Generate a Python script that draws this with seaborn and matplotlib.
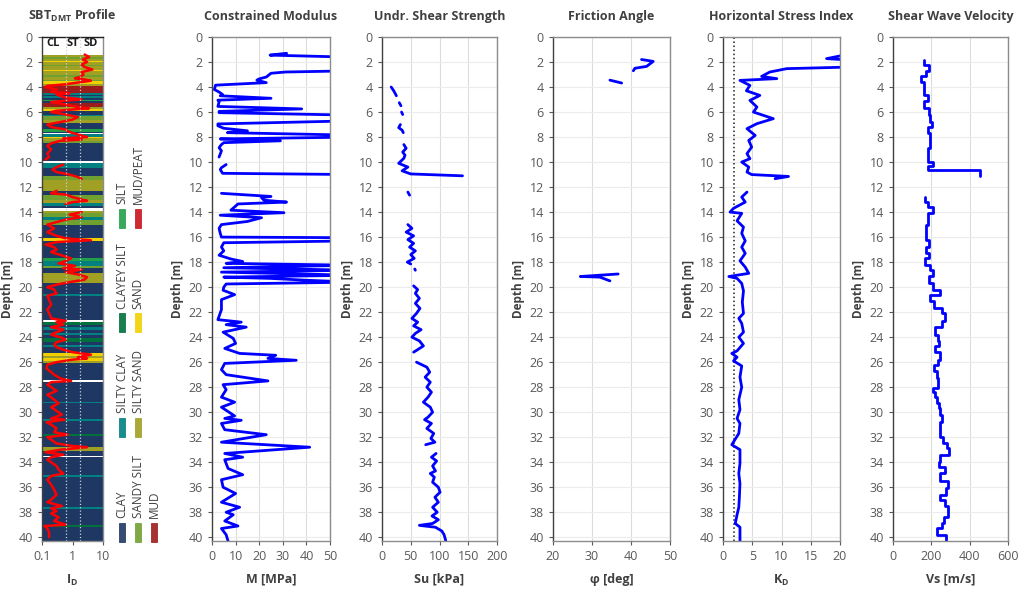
import numpy as np
import matplotlib
matplotlib.use('Agg')
import matplotlib.pyplot as plt
from matplotlib.patches import Rectangle
from matplotlib.ticker import NullLocator
import pandas as pd
import seaborn as sns

# ---- data ----

# SBT classes and colours
sbt_names = ['CLAY', 'SILTY CLAY', 'CLAYEY SILT', 'SILT', 'SANDY SILT',
             'SILTY SAND', 'SAND', 'MUD/PEAT', 'MUD']
sbt_colors = ['#1f3763', '#008080', '#00703c', '#22a048', '#70a030',
              '#a0a024', '#f2d000', '#c8141e', '#9c1b1b']

# depth runs that carry data (clay is the background inside them)
run_top = [1.4, 10.1, 13.9, 22.75, 27.55, 33.62]
run_bot = [9.9, 13.65, 22.65, 27.45, 33.52, 40.3]

# non-clay layers
layer_top = [1.40, 1.60, 1.75, 1.90, 2.02, 2.20, 2.35, 2.60, 2.75, 3.00, 3.20, 3.40, 3.55, 3.75,
             3.95, 4.45, 4.70, 5.00, 5.30, 5.60, 5.75, 6.20, 6.35, 6.60, 7.35, 7.70, 7.76, 8.00,
             8.10, 8.35, 10.10, 11.15, 11.40, 12.60, 13.00, 13.30, 13.90, 14.10, 14.40, 14.60,
             16.10, 17.70, 17.90, 18.30, 18.90, 20.55, 22.75, 23.20, 23.65, 24.10, 24.60, 25.30,
             25.50, 25.65, 25.90, 29.15, 30.55, 31.75, 32.75, 35.05, 37.55, 39.05]
layer_bot = [1.60, 1.75, 1.90, 2.02, 2.20, 2.35, 2.60, 2.75, 3.00, 3.20, 3.40, 3.55, 3.75, 3.95,
             4.45, 4.60, 4.85, 5.12, 5.60, 5.75, 5.90, 6.35, 6.60, 6.90, 7.60, 7.76, 8.00, 8.10,
             8.35, 8.50, 10.50, 11.40, 12.35, 13.00, 13.30, 13.55, 14.10, 14.40, 14.60, 15.00,
             16.30, 17.90, 18.30, 18.50, 19.70, 20.70, 23.00, 23.40, 23.80, 24.40, 24.80, 25.50,
             25.65, 25.90, 26.10, 29.28, 30.70, 31.92, 33.10, 35.18, 37.72, 39.15]
layer_cls = ['SILTY SAND', 'SANDY SILT', 'SILTY SAND', 'SAND', 'SILTY SAND', 'SANDY SILT',
             'SILTY SAND', 'SAND', 'SILTY SAND', 'SANDY SILT', 'SILTY SAND', 'SANDY SILT',
             'SAND', 'SILTY SAND', 'MUD', 'SILTY CLAY', 'SILTY CLAY', 'SILT', 'MUD',
             'SILTY SAND', 'SAND', 'SILTY CLAY', 'SANDY SILT', 'SILTY SAND', 'SILT', 'GAP',
             'SILTY CLAY', 'SAND', 'SILTY SAND', 'SANDY SILT', 'SILTY CLAY', 'SANDY SILT',
             'SILTY SAND', 'SANDY SILT', 'SILTY SAND', 'SILTY CLAY', 'SILTY SAND', 'SANDY SILT',
             'SILTY CLAY', 'SANDY SILT', 'SAND', 'SILT', 'SILTY CLAY', 'SANDY SILT',
             'SILTY SAND', 'SILTY CLAY', 'CLAYEY SILT', 'SILTY CLAY', 'SILTY CLAY',
             'CLAYEY SILT', 'SILTY CLAY', 'SAND', 'SILTY SAND', 'SAND', 'SILTY SAND',
             'SILTY CLAY', 'SILTY CLAY', 'CLAYEY SILT', 'SILTY SAND', 'SILTY CLAY',
             'SILTY CLAY', 'CLAYEY SILT']

# material index I_D
id_depth = [1.4, 1.6, 1.8, 2.0, 2.2, 2.4, 2.6, 2.8, 3.0, 3.2, 3.3, 3.4, 3.5, 3.6, 3.8, 3.9,
            4.0, 4.2, 4.4, 4.5, 4.6, 4.8, 5.0, 5.1, 5.2, 5.4, 5.6, 5.7, 5.8, 5.9, 6.0, 6.2,
            6.4, 6.6, 6.8, 7.0, 7.2, 7.4, 7.6, 7.8, 8.0, 8.1, 8.2, 8.3, 8.5, 8.7, 9.0, 9.3,
            9.6, 9.8,
            10.2, 10.4, 10.6, 10.8, 11.0, 11.2, 11.35,
            12.3, 12.5, 12.6, 12.8, 13.0, 13.1, 13.2, 13.35,
            14.0, 14.2, 14.4, 14.6, 14.8, 15.0, 15.3, 15.6, 15.9, 16.1, 16.25, 16.4, 16.6,
            16.8, 17.0, 17.2, 17.5, 17.7, 17.9, 18.1, 18.3, 18.5, 18.6, 18.8, 19.0, 19.2,
            19.4, 19.6, 19.8, 20.0, 20.2, 20.5, 20.7, 21.0, 21.4, 21.8, 22.2, 22.5, 22.7,
            22.8, 23.0, 23.2, 23.4, 23.6, 23.8, 24.0, 24.2, 24.4, 24.6, 24.8, 25.0, 25.2,
            25.4, 25.6, 25.7, 25.8, 26.0, 26.2, 26.5, 26.8, 27.0, 27.3, 27.5, 27.6, 27.8,
            28.0, 28.3, 28.6, 29.0, 29.3, 29.6, 29.9, 30.2, 30.5, 30.6, 30.8, 31.0, 31.3,
            31.6, 31.8, 32.0, 32.2, 32.5, 32.7, 32.8, 33.0, 33.2, 33.4, 33.6, 33.8, 34.0,
            34.3, 34.6, 34.9, 35.1, 35.4, 35.8, 36.2, 36.6, 37.0, 37.2, 37.5, 37.7, 37.9,
            38.1, 38.4, 38.7, 39.0, 39.1, 39.3, 39.6, 40.0]
id_val = [2.5, 3.5, 2.2, 3.0, 2.0, 2.5, 4.5, 2.0, 2.3, 1.8, 1.2, 2.5, 4.0, 2.0, 0.5, 0.15,
          0.13, 0.3, 0.2, 0.8, 0.3, 0.5, 2.0, 0.5, 0.2, 0.6, 1.5, 3.5, 1.0, 0.3, 0.2, 0.6,
          1.5, 1.0, 0.4, 0.15, 0.2, 0.6, 0.8, 1.5, 3.0, 0.5, 2.0, 0.4, 0.2, 0.15, 0.2, 0.15,
          0.17, 0.13,
          0.5, 0.3, 0.22, 0.3, 0.8, 1.5, 2.0,
          0.3, 0.2, 0.6, 1.0, 2.0, 3.0, 1.0, 0.6,
          2.0, 0.8, 2.0, 0.6, 0.3, 0.15, 0.25, 0.15, 0.3, 0.6, 4.0, 0.3, 0.13,
          0.25, 0.3, 0.2, 0.5, 0.9, 0.6, 0.35, 1.2, 0.5, 2.0, 0.6, 1.6, 3.0,
          2.5, 0.8, 0.3, 0.15, 0.25, 0.3, 0.15, 0.17, 0.2, 0.15, 0.18, 0.2, 0.6,
          0.3, 0.5, 0.2, 0.5, 0.3, 0.2, 0.4, 0.6, 0.3, 0.25, 0.3, 0.5, 1.0,
          4.0, 1.5, 3.0, 1.0, 0.3, 0.15, 0.14, 0.2, 0.25, 0.4, 0.9, 0.2, 0.15,
          0.2, 0.3, 0.15, 0.25, 0.35, 0.2, 0.3, 0.45, 0.2, 0.55, 0.14, 0.2, 0.3,
          0.25, 0.7, 0.15, 0.2, 0.3, 1.0, 3.0, 0.4, 0.13, 0.5, 0.2, 0.15, 0.2,
          0.3, 0.35, 0.5, 0.2, 0.15, 0.2, 0.25, 0.3, 0.2, 0.15, 0.45, 0.2, 0.3,
          0.2, 0.35, 0.25, 0.6, 0.12, 0.15, 0.17, 0.17]
id_run = [1] * 50 + [2] * 7 + [3] * 8 + [4] * (len(id_val) - 65)

# constrained modulus M [MPa]
m_depth = [1.30, 1.45, 1.62, 2.70, 2.80, 2.90, 3.20, 3.35, 3.45, 3.65, 3.85, 4.20, 4.40, 4.60,
           4.70, 4.90, 5.05, 5.20, 5.55, 5.75, 5.95, 6.05, 6.25, 6.70, 6.95, 7.10, 7.30, 7.50,
           7.65, 7.85, 8.00, 8.15, 8.30, 8.45, 8.60, 8.85, 9.10, 9.35, 9.60,
           10.20, 10.45, 10.60, 10.90, 11.00,
           12.50, 12.75, 12.85, 13.05, 13.20, 13.35, 13.85, 14.05, 14.25, 14.45, 14.75, 15.00,
           15.30, 15.70, 16.00, 16.05, 16.30, 16.45, 16.80, 17.10, 17.45, 17.75, 17.95, 18.10,
           18.25, 18.45, 18.65, 18.80, 19.05, 19.20, 19.30, 19.45, 19.60, 19.75, 20.00, 20.25,
           20.60, 21.00, 21.80, 22.60, 22.80, 23.00, 23.20, 23.60, 24.10, 24.50, 24.90, 25.30,
           25.45, 25.70, 25.85, 26.10, 26.60, 27.00, 27.50, 27.80, 28.20, 28.80, 29.20, 29.60,
           30.30, 30.50, 30.65, 30.90, 31.40, 31.80, 32.40, 32.80, 33.30, 33.60, 33.80, 34.50,
           35.00, 35.40, 36.00, 36.50, 37.20, 37.60, 38.00, 38.20, 38.70, 39.10, 39.30, 39.80,
           40.30]
m_val = [31.6, 24.6, 60, 60, 31, 25, 23, 20, 19, 23, 1.5, 1.0, 3, 4.5,
         3.5, 25, 2.5, 3, 2.5, 38, 3, 3, 60, 60, 2.5, 2.5, 5, 15,
         6.5, 60, 60, 3.5, 29, 5, 4, 3, 4, 3.5, 3,
         6, 4, 3.5, 4.5, 60,
         4, 25, 21, 22, 31.6, 11, 8, 30.5, 3.5, 21, 15, 4,
         3, 3.5, 4, 60, 60, 5, 4, 5, 3, 8, 13, 6,
         60, 5, 60, 4, 60, 5, 24.6, 40, 60, 6, 5, 4.7,
         9.6, 4, 4, 2.5, 12.4, 6, 14.5, 4.7, 9, 10, 5.4, 11.7,
         27, 23.7, 35.7, 5.4, 4, 6, 23.7, 4.7, 6, 4, 9.6, 4,
         9.6, 5.4, 12.4, 4, 5.4, 23, 4, 41.4, 5.4, 13, 5.4, 6.8,
         13, 4, 4.7, 10, 4, 11.7, 6, 9, 5.4, 11, 4, 6,
         6.8]
m_run = [1] * 39 + [2] * 5 + [3] * (len(m_val) - 44)

# undrained shear strength Su [kPa]
su_depth = [4.00, 4.35, 4.70,
            5.25, 5.50,
            6.00, 6.20,
            7.00, 7.25, 7.45, 7.65,
            8.60, 8.90, 9.20, 9.45, 9.70, 10.10, 10.40, 10.70, 10.95, 11.10,
            12.40, 12.65,
            15.00, 15.30, 15.60, 15.90, 16.20, 16.50, 16.80, 17.10, 17.40, 17.70, 18.00, 18.15,
            18.55, 18.65,
            19.90, 20.20, 20.50, 20.90, 21.30, 21.70, 22.10, 22.50, 22.80, 23.10, 23.40, 23.70,
            24.00, 24.30, 24.70, 25.00, 25.20,
            26.00, 26.40, 26.80, 27.20, 27.60, 28.00, 28.40, 28.80, 29.20, 29.60, 30.00, 30.40,
            30.60, 30.90, 31.30, 31.70, 32.10, 32.40, 32.60,
            33.30, 33.60, 33.90, 34.30, 34.70, 34.90, 35.20, 35.60, 36.00, 36.40, 36.80, 37.20,
            37.60, 38.00, 38.30, 38.60, 38.90, 39.05, 39.20, 39.50, 39.80, 40.30]
su_val = [16, 21, 25,
          30, 33,
          34, 36,
          32, 29, 35, 37,
          38, 42, 36, 40, 38, 29, 45, 35, 50, 140,
          45, 48,
          45, 52, 42, 55, 45, 55, 48, 58, 50, 56, 44, 50,
          57, 58,
          55, 62, 58, 65, 58, 66, 60, 52, 62, 55, 68, 58,
          52, 65, 72, 62, 55,
          60, 78, 83, 75, 84, 78, 86, 80, 72, 84, 88, 80,
          74, 86, 78, 90, 85, 92, 76,
          94, 86, 95, 88, 93, 84, 91, 88, 98, 101, 92, 98,
          88, 96, 87, 98, 88, 65, 93, 104, 108, 111]
su_run = [1] * 3 + [2] * 2 + [3] * 2 + [4] * 4 + [5] * 10 + [6] * 2 + [7] * 12 + [8] * 2 + \
         [9] * 17 + [10] * 19
su_run = su_run + [11] * (len(su_val) - len(su_run))

# friction angle phi [deg]
phi_depth = [1.80, 1.95, 2.35, 2.50, 2.70, 3.45, 3.68, 18.95, 19.15, 19.20, 19.50]
phi_val = [42.7, 45.7, 44.0, 41.0, 40.6, 34.6, 37.6, 36.7, 27.0, 32.0, 34.6]
phi_run = [1, 1, 1, 1, 1, 2, 2, 3, 3, 3, 3]

# horizontal stress index K_D
kd_depth = [1.33, 1.73, 1.85, 2.40, 2.53, 2.80, 3.15, 3.33, 3.47, 3.87, 4.30, 4.67, 5.07, 5.60,
            6.00, 6.53, 6.93, 7.33, 7.87, 8.27, 8.80, 9.33, 9.73, 10.00, 10.40, 10.80, 11.00,
            11.15, 11.33,
            12.40, 12.80, 13.20, 13.70, 14.00, 14.10, 14.70, 15.20, 15.70, 16.30, 16.80, 17.30,
            17.90, 18.40, 18.90, 19.15, 19.30, 19.70, 20.30, 21.20, 22.10, 22.50, 22.90, 23.60,
            24.00, 24.50, 25.10, 25.30, 25.60, 25.90, 26.30, 27.20, 28.00, 29.00, 29.80, 30.50,
            30.90, 31.70, 32.60, 33.00, 34.10, 34.90, 35.70, 36.80, 37.60, 38.20, 38.90, 39.20,
            40.30]
kd_val = [22, 17.7, 22, 22, 10.9, 8.0, 6.6, 9.2, 2.9, 4.6, 4.0, 6.3, 4.6, 5.8,
          5.2, 8.6, 5.8, 4.1, 5.5, 4.4, 4.9, 4.1, 4.6, 3.2, 4.4, 4.1, 4.9,
          11.2, 8.9,
          4.1, 3.2, 3.8, 1.8, 1.2, 3.2, 2.4, 3.5, 3.2, 3.8, 3.2, 3.8,
          2.9, 3.8, 4.4, 1.0, 2.4, 3.2, 3.5, 3.3, 3.5, 2.7, 3.2, 3.5,
          2.7, 3.5, 2.4, 1.5, 2.4, 1.8, 3.2, 2.9, 3.2, 2.7, 2.9, 2.4,
          2.9, 2.7, 1.5, 2.9, 2.9, 2.7, 2.9, 2.8, 2.7, 2.4, 2.1, 2.9,
          2.9]
kd_run = [1] * 29 + [2] * (len(kd_val) - 29)
kd_ref = 1.8

# shear wave velocity Vs [m/s], interval tops/bottoms
vs_top = [1.8, 2.2, 2.7, 3.1, 3.6, 4.65, 5.1, 5.7, 6.2, 6.8, 7.2, 7.7, 8.9, 10.0, 10.3, 10.6,
          12.8, 13.2, 13.6, 14.1, 15.0, 16.2, 16.8, 17.3, 17.7, 18.2, 18.6, 19.1, 19.7, 20.2,
          20.6, 21.1, 21.7, 22.1, 22.7, 23.2, 23.8, 24.3, 24.7, 25.2, 25.8, 26.2, 26.7, 27.3,
          28.1, 28.4, 28.8, 29.3, 29.7, 30.2, 30.8, 32.0, 32.5, 32.9, 33.4, 34.0, 34.4, 34.9,
          35.5, 36.1, 36.6, 37.0, 37.5, 38.4, 38.9, 39.3, 39.8]
vs_bot = vs_top[1:16] + [11.15] + vs_top[17:] + [40.3]
vs_val = [163, 186, 174, 146, 160, 181, 160, 186, 195, 203, 181, 191, 181, 209, 181, 455,
          165, 181, 209, 181, 174, 186, 174, 186, 169, 195, 209, 186, 209, 243,
          191, 212, 256, 270, 256, 221, 233, 240, 217, 247, 235, 216, 230, 235,
          209, 221, 230, 238, 247, 256, 247, 261, 282, 290, 247, 238, 270, 247,
          285, 278, 243, 270, 287, 264, 256, 230, 278]
vs_run = [1] * 16 + [2] * (len(vs_val) - 16)

# ---- figure ----
sns.set_style('white')
plt.rcParams['font.family'] = ['Open Sans', 'DejaVu Sans']
plt.rcParams['mathtext.fontset'] = 'custom'
plt.rcParams['mathtext.rm'] = 'Open Sans'
plt.rcParams['mathtext.bf'] = 'Open Sans:bold'
plt.rcParams['mathtext.it'] = 'Open Sans:italic'

W, H = 1024, 597
fig = plt.figure(figsize=(W / 100, H / 100), dpi=100)
fig.patch.set_facecolor('white')

panel_px = [(42, 103), (212, 330), (382, 497), (553, 670), (723, 840), (893, 1008)]
top_px, bot_px = 37, 541
axes = [fig.add_axes([l / W, 1 - bot_px / H, (r - l) / W, (bot_px - top_px) / H])
        for l, r in panel_px]

TXT = '#404040'
TICK = '#595959'


def style_axis(ax, title, xlabel, xlim, xticks):
    ax.set_xlim(xlim)
    ax.set_xticks(xticks)
    ax.set_ylim(40.3, 0)
    ax.set_yticks(range(0, 41, 2))
    ax.set_title(title, fontsize=9, fontweight='bold', color=TXT, pad=12)
    ax.set_xlabel(xlabel, fontsize=9, fontweight='bold', color=TXT, labelpad=7)
    ax.set_ylabel('Depth [m]', fontsize=8.5, fontweight='bold', color=TXT, labelpad=3)
    ax.tick_params(axis='both', labelsize=9, colors=TICK, length=3, width=0.8,
                   direction='out', bottom=True, left=True)
    for s in ax.spines.values():
        s.set_color('#8c8c8c')
        s.set_linewidth(1)
    ax.spines['left'].set_color('#404040')


def draw_profile(ax, depth, val, run, color, lw=2.0):
    df = pd.DataFrame({'depth': depth, 'val': val, 'run': run})
    sns.lineplot(data=df, x='val', y='depth', units='run', estimator=None, sort=False,
                 orient='y', color=color, lw=lw, ax=ax, legend=False)


# --- SBT profile ---
ax = axes[0]
ax.set_xscale('log')
cmap = dict(zip(sbt_names, sbt_colors))
for t, b in zip(run_top, run_bot):
    ax.axhspan(t, b, color=cmap['CLAY'], lw=0)
for t, b, c in zip(layer_top, layer_bot, layer_cls):
    if c == 'GAP':
        ax.axhspan(t, b, color='white', lw=0)
    else:
        ax.axhspan(t, b, color=cmap[c], lw=0)
for xv in (0.6, 1.8):
    ax.axvline(xv, color='#c9d1da', ls=':', lw=0.9, zorder=3)
draw_profile(ax, id_depth, id_val, id_run, '#ff0000', lw=1.8)
style_axis(ax, r'SBT$_{\mathbf{DMT}}$ Profile', r'$\mathbf{I}_{\mathbf{D}}$', (0.1, 10), [0.1, 1, 10])
ax.set_xticklabels(['0.1', '1', '10'])
ax.xaxis.set_minor_locator(NullLocator())
ax.spines['top'].set_color('#202020')
for lab, xv in zip(['CL', 'ST', 'SD'], [0.23, 1.05, 4.0]):
    ax.text(xv, 0.55, lab, ha='center', va='center', fontsize=8, fontweight='bold', color='#1a1a1a')

# legend, drawn as a rotated column stack
col_px = [122, 138, 154]
row_px = [532, 427, 323, 218]
for i, (name, col) in enumerate(zip(sbt_names, sbt_colors)):
    cx, cy = col_px[i // 4], row_px[i % 4]
    fig.add_artist(Rectangle(((cx - 3) / W, 1 - (cy + 9.5) / H), 6 / W, 19 / H,
                             transform=fig.transFigure, facecolor=col,
                             edgecolor=col, alpha=0.9, lw=0.6))
    fig.text(cx / W, 1 - (cy - 14) / H, name, rotation=90, ha='center', va='bottom',
             fontsize=8.5, color=TXT)

# --- other panels ---
draw_profile(axes[1], m_depth, m_val, m_run, '#0000ff')
style_axis(axes[1], 'Constrained Modulus', 'M [MPa]', (0, 50), range(0, 51, 10))

draw_profile(axes[2], su_depth, su_val, su_run, '#0000ff')
style_axis(axes[2], 'Undr. Shear Strength', 'Su [kPa]', (0, 200), range(0, 201, 50))

draw_profile(axes[3], phi_depth, phi_val, phi_run, '#0000ff')
style_axis(axes[3], 'Friction Angle', 'φ [deg]', (20, 50), range(20, 51, 10))

axes[4].axvline(kd_ref, color='#202020', ls=':', lw=1.1)
draw_profile(axes[4], kd_depth, kd_val, kd_run, '#0000ff')
style_axis(axes[4], 'Horizontal Stress Index', r'$\mathbf{K}_{\mathbf{D}}$', (0, 20), range(0, 21, 5))

vs_x, vs_y, vs_r = [], [], []
for t, b, v, r in zip(vs_top, vs_bot, vs_val, vs_run):
    vs_x += [v, v]
    vs_y += [t, b]
    vs_r += [r, r]
draw_profile(axes[5], vs_y, vs_x, vs_r, '#0000ff')
style_axis(axes[5], 'Shear Wave Velocity', 'Vs [m/s]', (0, 600), range(0, 601, 200))

for ax in axes[1:]:
    ax.set_axisbelow(True)
    ax.grid(axis='x', color='#dcdcdc', lw=0.8)
    ax.grid(axis='y', color='#ececec', lw=0.8)

fig.savefig('out.png', dpi=100)
